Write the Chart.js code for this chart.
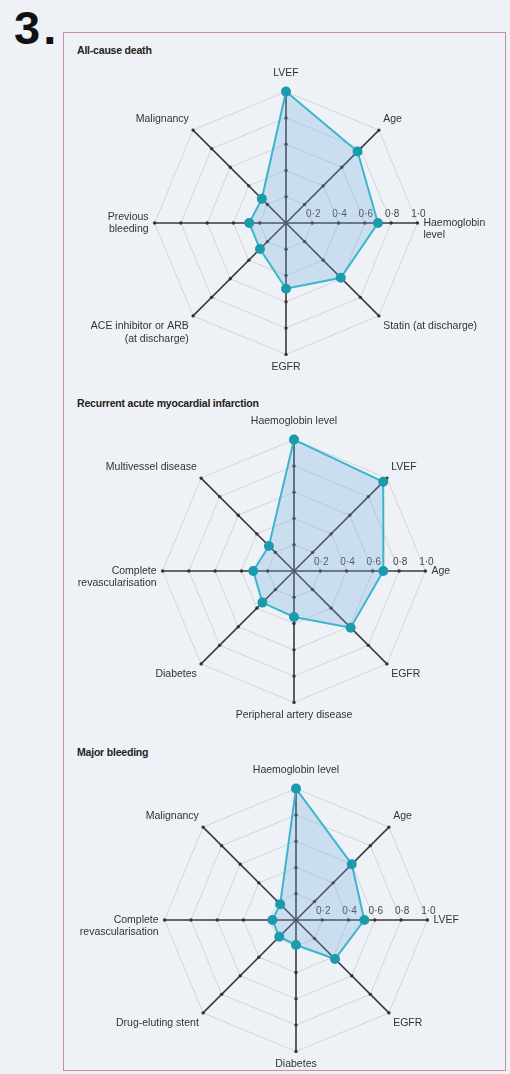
<!DOCTYPE html>
<html>
<head>
<meta charset="utf-8">
<script src="https://cdn.jsdelivr.net/npm/chart.js@4/dist/chart.umd.min.js"></script>
<style>
  html, body { margin: 0; padding: 0; background: #eef1f5; overflow: hidden; }
  body { width: 510px; height: 1074px; position: relative; font-family: "Liberation Sans", Arial, sans-serif; }
  .num { position: absolute; left: 14px; top: 4px; font-size: 47px; line-height: 1; font-weight: bold; color: #111; letter-spacing: 3px; }
  .box { position: absolute; left: 63px; top: 32px; width: 441px; height: 1037px; border: 1.5px solid #c98ea4; }
  .title { position: absolute; left: 77px; font-size: 10.5px; font-weight: bold; color: #222; letter-spacing: -0.2px; }
  canvas { position: absolute; }
</style>
</head>
<body>
<div class="num">3.</div>
<div class="box"></div>
<div class="title" style="top:44px">All-cause death</div>
<div class="title" style="top:397px">Recurrent acute myocardial infarction</div>
<div class="title" style="top:746px">Major bleeding</div>
<canvas id="death-chart" style="left:61px; top:65px"></canvas>
<canvas id="reami-chart" style="left:62px; top:413px"></canvas>
<canvas id="bleed-chart" style="left:64px; top:762px"></canvas>
<script>
// Radar values (0-1 scale), clockwise from the top spoke
// (leading '' keeps the first text line level with the spoke, as in the figure)
let deathLabels = ['LVEF', 'Age', ['', 'Haemoglobin', 'level'], 'Statin (at discharge)', 'EGFR',
    ['ACE inhibitor or ARB', '(at discharge)'], ['Previous', 'bleeding'], 'Malignancy'];
let deathValues = [1.0, 0.77, 0.70, 0.59, 0.50, 0.28, 0.28, 0.26];

let reamiLabels = ['Haemoglobin level', 'LVEF', 'Age', 'EGFR', 'Peripheral artery disease',
    'Diabetes', ['', 'Complete', 'revascularisation'], 'Multivessel disease'];
let reamiValues = [1.0, 0.96, 0.68, 0.61, 0.35, 0.34, 0.31, 0.27];

let bleedLabels = ['Haemoglobin level', 'Age', 'LVEF', 'EGFR', 'Diabetes',
    'Drug-eluting stent', ['', 'Complete', 'revascularisation'], 'Malignancy'];
let bleedValues = [1.0, 0.60, 0.52, 0.42, 0.19, 0.18, 0.18, 0.17];

let tickValues = [0.2, 0.4, 0.6, 0.8, 1.0];
let tickLabels = ['0·2', '0·4', '0·6', '0·8', '1·0'];

const FONT = '"Liberation Sans", Arial, sans-serif';

// small dots on every spoke + tick labels along the right-hand spoke
const spokeMarks = {
    id: 'spokeMarks',
    beforeDatasetsDraw(chart) {
        const r = chart.scales.r;
        const ctx = chart.ctx;
        const n = chart.data.labels.length;
        ctx.save();
        ctx.fillStyle = '#333';
        tickValues.forEach(v => {
            for (let i = 0; i < n; i++) {
                const p = r.getPointPositionForValue(i, v);
                ctx.beginPath();
                ctx.arc(p.x, p.y, 1.7, 0, Math.PI * 2);
                ctx.fill();
            }
        });
        ctx.font = '10px ' + FONT;
        ctx.fillStyle = '#444';
        ctx.textAlign = 'center';
        ctx.textBaseline = 'bottom';
        tickValues.forEach((v, k) => {
            const p = r.getPointPositionForValue(2, v);
            ctx.fillText(tickLabels[k], p.x + 1, p.y - 4);
        });
        ctx.restore();
    }
};

function makeRadar(id, labels, values) {
    const canvas = document.getElementById(id);
    canvas.width = 450;
    canvas.height = 312;
    canvas.style.width = '450px';
    canvas.style.height = '312px';
    // eslint-disable-next-line no-undef
    new Chart(canvas.getContext('2d'), {
        type: 'radar',
        data: {
            labels: labels,
            datasets: [{
                data: values,
                borderColor: '#3cb4cf',
                backgroundColor: 'rgba(110,170,225,0.27)',
                borderWidth: 2,
                fill: true,
                pointBackgroundColor: '#1b9bab',
                pointBorderColor: '#1b9bab',
                pointRadius: 4
            }]
        },
        options: {
            responsive: false,
            animation: false,
            plugins: {
                legend: { display: false },
                tooltip: { enabled: false }
            },
            scales: {
                r: {
                    min: 0,
                    max: 1,
                    ticks: { stepSize: 0.2, display: false },
                    grid: { color: '#d2d5d9', lineWidth: 1, circular: false },
                    angleLines: { color: '#3a3a3a', lineWidth: 1.6 },
                    pointLabels: {
                        color: '#333',
                        font: { size: 10.5, family: FONT },
                        padding: ctx => ctx.index === 0 ? 12 : 6
                    }
                }
            }
        },
        plugins: [spokeMarks]
    });
}

makeRadar('death-chart', deathLabels, deathValues);
makeRadar('reami-chart', reamiLabels, reamiValues);
makeRadar('bleed-chart', bleedLabels, bleedValues);
</script>
</body>
</html>
